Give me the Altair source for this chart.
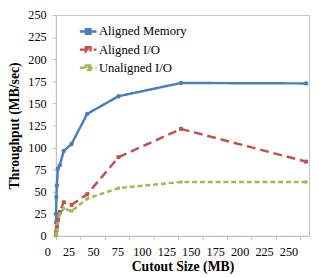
import altair as alt
import pandas as pd

sizes = [0.125, 0.25, 0.5, 1, 2, 4, 8, 16, 32, 64, 128, 256]
aligned_memory = [15, 25, 44, 57, 76, 80, 96, 104, 138, 158, 173, 172.5]
aligned_io = [1, 3, 6, 10, 18, 27, 38, 35, 47, 89, 121, 84]
unaligned_io = [0, 1, 3, 7, 14, 25, 31, 28, 42, 54, 61, 61]

series = ["Aligned Memory", "Aligned I/O", "Unaligned I/O"]
colors = ["#4A7EBB", "#C0504D", "#9BBB59"]
dashes = [[1, 0], [9, 5], [5, 3]]
shapes = ["circle", "square", "square"]
marker_sizes = [20, 16, 10]

rows = []
for name, vals in zip(series, [aligned_memory, aligned_io, unaligned_io]):
    for s, v in zip(sizes, vals):
        rows.append({"size": s, "tp": v, "series": name})
df = pd.DataFrame(rows)

FONT = "Liberation Serif"

x = alt.X("size:Q", title="Cutout Size (MB)",
          scale=alt.Scale(domain=[0, 259], nice=False, zero=True),
          axis=alt.Axis(values=list(range(0, 251, 25)), grid=False, tickSize=4,
                        labelPadding=6, labelOffset=-12, titleY=24, titleBaseline="top"))
y = alt.Y("tp:Q", title="Throughput (MB/sec)",
          scale=alt.Scale(domain=[0, 250], nice=False),
          axis=alt.Axis(values=list(range(0, 251, 25)), grid=False, tickSize=4,
                        labelPadding=6, titleX=-35))
color = alt.Color("series:N", scale=alt.Scale(domain=series, range=colors),
                  legend=alt.Legend(title=None, orient="none", legendX=23, legendY=7,
                                    symbolType="M-1,0H1M-0.28,-0.28H0.28V0.28H-0.28Z",
                                    symbolSize=289,
                                    symbolStrokeWidth=2.5, labelFontSize=13,
                                    labelFont=FONT, labelColor="#000000",
                                    labelOffset=1, rowPadding=0.5))
dash = alt.StrokeDash("series:N", scale=alt.Scale(domain=series, range=dashes), legend=None)

lines = alt.Chart(df).mark_line(strokeWidth=2.5).encode(x=x, y=y, color=color, strokeDash=dash)

point_layers = []
for name, col, shp, msz in zip(series, colors, shapes, marker_sizes):
    point_layers.append(
        alt.Chart(df).transform_filter(alt.datum.series == name)
        .mark_point(filled=True, opacity=1, strokeWidth=0, shape=shp, size=msz, color=col)
        .encode(x=x, y=y)
    )

chart = alt.layer(lines, *point_layers).properties(
    width=259, height=226,
    autosize="none",
    padding={"left": 49, "top": 4, "right": 2, "bottom": 39},
).configure_view(stroke="#BFBFBF", strokeWidth=1).configure_axis(
    labelFont=FONT, labelFontSize=12.5, labelColor="#000000",
    titleFont=FONT, titleFontSize=14, titleFontWeight="bold", titleColor="#000000",
    domainColor="#BFBFBF", tickColor="#BFBFBF",
)

chart.save("out.html", embed_options={"renderer": "svg", "actions": False})
